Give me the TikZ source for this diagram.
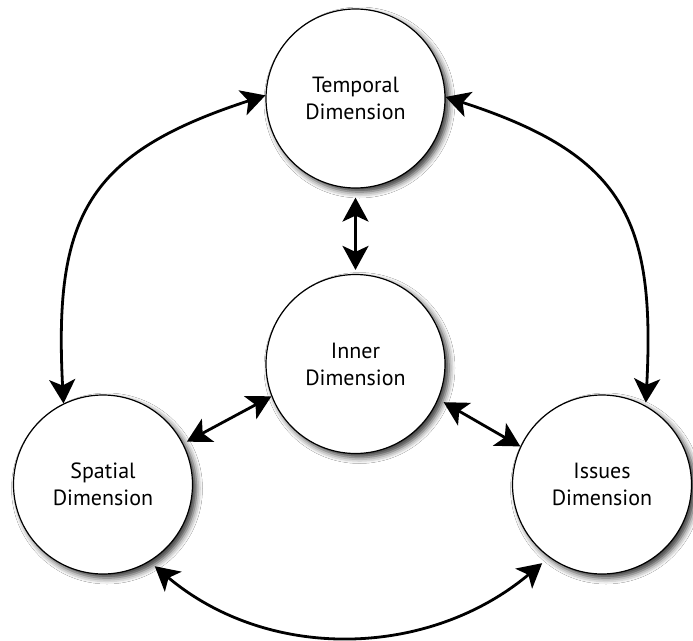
\documentclass[tikz,border=0pt]{standalone}
\usepackage{fontspec}
\setmainfont{PT Sans}
\usetikzlibrary{arrows.meta,shadows.blur}
\begin{document}
\begin{tikzpicture}[x=1pt,y=1pt,
  dim/.style={circle,draw=black,line width=1.2pt,fill=white,minimum size=179pt,
    inner sep=0pt,align=center,font=\fontsize{22}{27}\selectfont,
    blur shadow={shadow xshift=4pt,shadow yshift=-4pt,shadow blur radius=6pt,shadow opacity=80}},
  link/.style={line width=2.8pt,{Stealth[length=24pt,width=26pt,inset=6pt]}-{Stealth[length=24pt,width=26pt,inset=6pt]}}
]
\useasboundingbox (0,0) rectangle (693,-640);
\fill[white] (0,0) rectangle (693,-640);

\node[dim] (T)  at (355.5,-98.5) {Temporal\\Dimension};
\node[dim] (In) at (355.5,-364)  {Inner\\Dimension};
\node[dim] (S)  at (103,-484.5)  {Spatial\\Dimension};
\node[dim] (I)  at (602,-484.5)  {Issues\\Dimension};

% outer curved links
\draw[link] (S.116) to[out=93,in=198,looseness=1.3] (T.178);
\draw[link,shorten <=3pt] (I.61) to[out=87,in=-18,looseness=1.3] (T.1);
\draw[link,shorten <=7pt,shorten >=9pt] (S.-59) to[out=-40,in=220] (I.-126);

% links to inner dimension
\draw[link,shorten <=9pt,shorten >=4pt] (T.270) -- (In.90);
\draw[link,shorten >=4pt] (In.201) -- (S.27);
\draw[link,shorten <=6pt] (In.-23) -- (I.155);
\end{tikzpicture}
\end{document}
